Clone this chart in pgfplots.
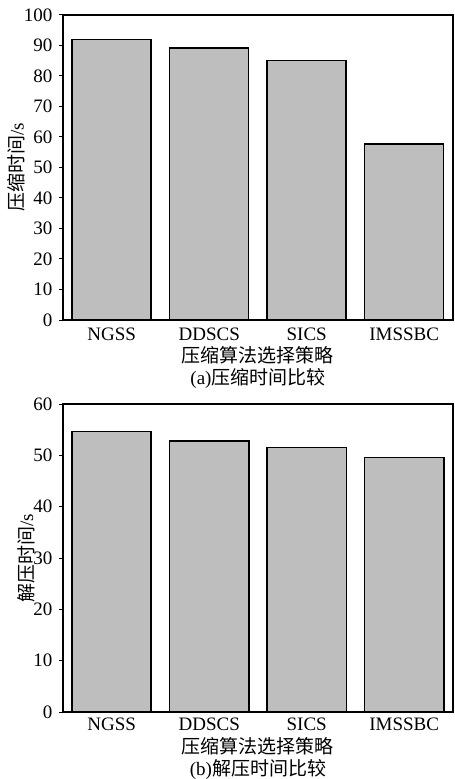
\documentclass[border=0pt]{standalone}
\usepackage{pgfplots}
\pgfplotsset{compat=1.18}
\usepackage{fontspec}
\setmainfont{Liberation Serif}
\newfontfamily\cjk{Noto Sans CJK SC}
\definecolor{barfill}{RGB}{190,190,190}
\begin{document}
\fontsize{19}{22}\selectfont
\begin{tikzpicture}
\path[use as bounding box] (-63pt,320pt) rectangle (392pt,-459pt);
\pgfplotsset{
  mybar/.style={
    scale only axis, width=390pt,
    xmin=-0.5, xmax=3.5,
    xtick={0,1,2,3}, xticklabels={NGSS,DDSCS,SICS,IMSSBC},
    x tick style={draw=none},
    ytick pos=left, tick align=outside,
    major tick length=4pt,
    y tick style={line width=1pt, black},
    ymin=0,
    axis line style={line width=1.6pt},
    /pgf/number format/assume math mode=true,
    tick label style={font=\fontsize{19}{22}\selectfont},
    label style={font=\fontsize{19}{22}\selectfont},
    xlabel style={align=center},
    ylabel style={yshift=-14pt},
    ybar, bar width=79pt,
    clip=false,
  }
}
\begin{axis}[mybar, height=305pt, ymax=100, ytick={0,10,...,100},
  xticklabel style={yshift=3pt},
  xlabel style={yshift=7pt},
  ylabel={{\cjk 压缩时间}/s},
  xlabel={{\cjk 压缩算法选择策略}\\(a){\cjk 压缩时间比较}}]
\addplot[fill=barfill, draw=black, line width=1.5pt] coordinates {(0,92.0) (1,89.1) (2,85.0) (3,57.7)};
\end{axis}
\begin{axis}[mybar, at={(0,-392pt)}, height=308pt, ymax=60, ytick={0,10,...,60},
  xticklabel style={yshift=5pt},
  xlabel style={yshift=6pt},
  ylabel={{\cjk 解压时间}/s},
  xlabel={{\cjk 压缩算法选择策略}\\(b){\cjk 解压时间比较}}]
\addplot[fill=barfill, draw=black, line width=1.5pt] coordinates {(0,54.6) (1,52.8) (2,51.5) (3,49.6)};
\end{axis}
\end{tikzpicture}
\end{document}
